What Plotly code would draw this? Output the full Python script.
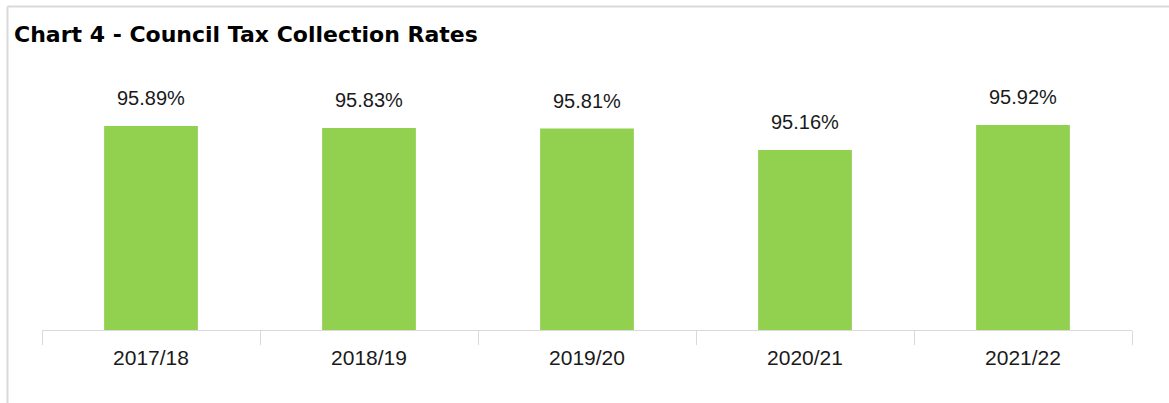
import plotly.graph_objects as go

years = ["2017/18", "2018/19", "2019/20", "2020/21", "2021/22"]
rates = [95.89, 95.83, 95.81, 95.16, 95.92]
labels = ["95.89%", "95.83%", "95.81%", "95.16%", "95.92%"]

W, H = 1169, 403
ml, mr, mt, mb = 42, 37, 65, 73
pw = W - ml - mr
ph = H - mt - mb

def px_x(p):
    return (p - ml) / pw

def px_y(p):
    return (H - mb - p) / ph

FONT = "Liberation Sans, Arial"

fig = go.Figure(go.Bar(
    x=years, y=rates,
    marker=dict(color="#92d050", line=dict(width=0)),
    width=0.43, hoverinfo="skip",
))

annotations = [
    dict(x=yr, y=v, xref="x", yref="y", text=lab, showarrow=False,
         yanchor="bottom", yshift=15,
         font=dict(family=FONT, size=20, color="#1a1a1a"))
    for yr, v, lab in zip(years, rates, labels)
]

fig.update_layout(
    width=W, height=H,
    margin=dict(l=ml, r=mr, t=mt, b=mb),
    plot_bgcolor="white", paper_bgcolor="white",
    showlegend=False,
    annotations=annotations,
    title=dict(text="<b>Chart 4 - Council Tax Collection Rates</b>",
               font=dict(family="DejaVu Sans", size=22, color="#000"),
               x=14 / W, xanchor="left", y=1 - 34 / H, yanchor="middle"),
    xaxis=dict(showline=True, linecolor="#d9d9d9", linewidth=1,
               ticks="outside", tickson="boundaries", ticklen=14,
               tickcolor="#d9d9d9", showgrid=False, ticklabelstandoff=9,
               tickfont=dict(family=FONT, size=21, color="#1a1a1a")),
    yaxis=dict(range=[89.685, 97.745], visible=False, showgrid=False),
    shapes=[
        dict(type="line", xref="paper", yref="paper",
             x0=px_x(7.5), x1=px_x(W + 5), y0=px_y(6.5), y1=px_y(6.5),
             line=dict(color="#d9d9d9", width=2)),
        dict(type="line", xref="paper", yref="paper",
             x0=px_x(7.5), x1=px_x(7.5), y0=px_y(6.5), y1=px_y(H + 5),
             line=dict(color="#d9d9d9", width=2)),
    ],
)

fig.write_html("out.html", config={"displayModeBar": False},
               post_script="document.body.style.margin='0';document.body.style.overflow='hidden';")
